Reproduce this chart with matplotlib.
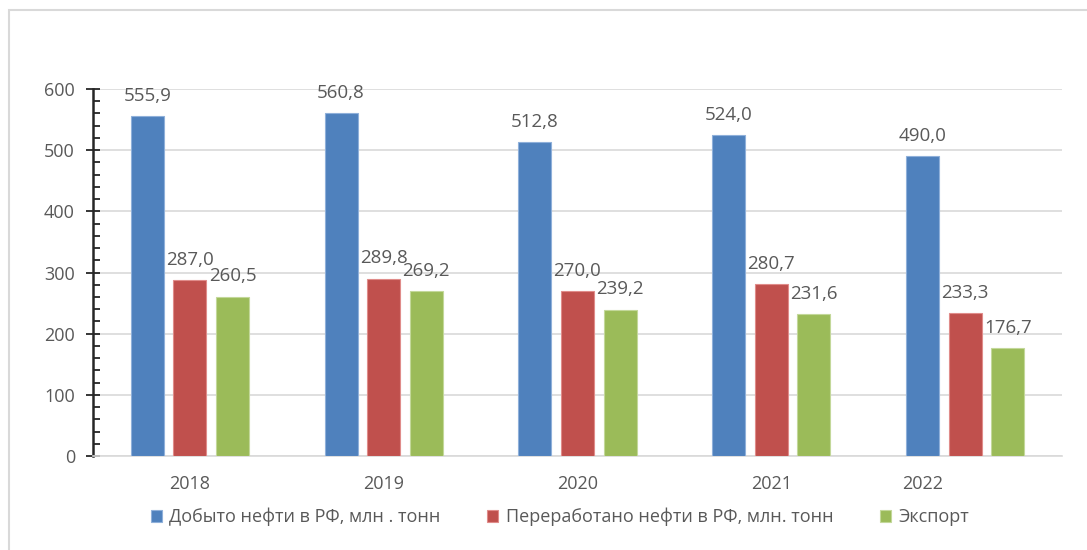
import matplotlib.pyplot as plt
import matplotlib.patches as patches
import matplotlib.transforms as mtransforms
from matplotlib.ticker import MultipleLocator
import numpy as np

plt.rcParams['font.family'] = ['Open Sans', 'DejaVu Sans']

years = ['2018', '2019', '2020', '2021', '2022']
series_names = ['Добыто нефти в РФ, млн . тонн',
                'Переработано нефти в РФ, млн. тонн',
                'Экспорт']
dobycha = [555.9, 560.8, 512.8, 524.0, 490.0]
pererabotka = [287.0, 289.8, 270.0, 280.7, 233.3]
eksport = [260.5, 269.2, 239.2, 231.6, 176.7]

colors = ['#4F81BD', '#C0504D', '#9BBB59']
edges = ['#8FB0DA', '#E08C8A', '#C3D89A']
txt = '#595959'

fig = plt.figure(figsize=(10.87, 5.5), dpi=100)
ax = fig.add_axes([93/1087, 1 - 456/550, (1062-93)/1087, (456-89)/550])

# outer chart frame
fig.patches.append(patches.Rectangle((9/1087, -0.1), 1.2, 1 - 10/550 + 0.1,
                                     transform=fig.transFigure, fill=False,
                                     edgecolor='#d9d9d9', linewidth=1.5))

x = np.arange(len(years))
w = 0.17
step = 0.22
for i, vals in enumerate([dobycha, pererabotka, eksport]):
    bars = ax.bar(x + (i - 1) * step, vals, w, color=colors[i],
                  edgecolor=edges[i], linewidth=0.8, label=series_names[i], zorder=3)
    for b, v in zip(bars, vals):
        ax.annotate(f'{v:.1f}'.replace('.', ','),
                    (b.get_x() + b.get_width() / 2, v),
                    xytext=(0, 11), textcoords='offset points',
                    ha='center', va='baseline', fontsize=13.5, color=txt)

ax.set_xlim(-0.5, 4.5)
ax.set_ylim(0, 600)
ax.yaxis.set_major_locator(MultipleLocator(100))
ax.yaxis.set_minor_locator(MultipleLocator(20))
ax.grid(axis='y', color='#d9d9d9', linewidth=1.2, zorder=0)

ax.set_xticks(x)
ax.set_xticklabels(years)
ax.tick_params(axis='x', length=0, pad=14, labelsize=13, labelcolor=txt)
ax.tick_params(axis='y', which='major', direction='inout', length=10, width=1.3,
               color='#262626', pad=8, labelsize=13, labelcolor=txt)
ax.tick_params(axis='y', which='minor', direction='in', length=5, width=1.3,
               color='#262626')

# 2022 label sits left of its group in the original
lbl = ax.get_xticklabels()[-1]
lbl.set_transform(lbl.get_transform() + mtransforms.ScaledTranslation(-42/100, 0, fig.dpi_scale_trans))

for s in ['top', 'right']:
    ax.spines[s].set_visible(False)
ax.spines['left'].set_color('#262626')
ax.spines['left'].set_linewidth(1.8)
ax.spines['bottom'].set_color('#d9d9d9')
ax.spines['bottom'].set_linewidth(1.2)

fig.legend(loc='center', bbox_to_anchor=(560/1087, 1 - 517/550), ncol=3,
           frameon=False, fontsize=13, labelcolor=txt, handlelength=0.6,
           handleheight=0.6, handletextpad=0.4, columnspacing=2.6)

plt.savefig('out.png', dpi=100)
